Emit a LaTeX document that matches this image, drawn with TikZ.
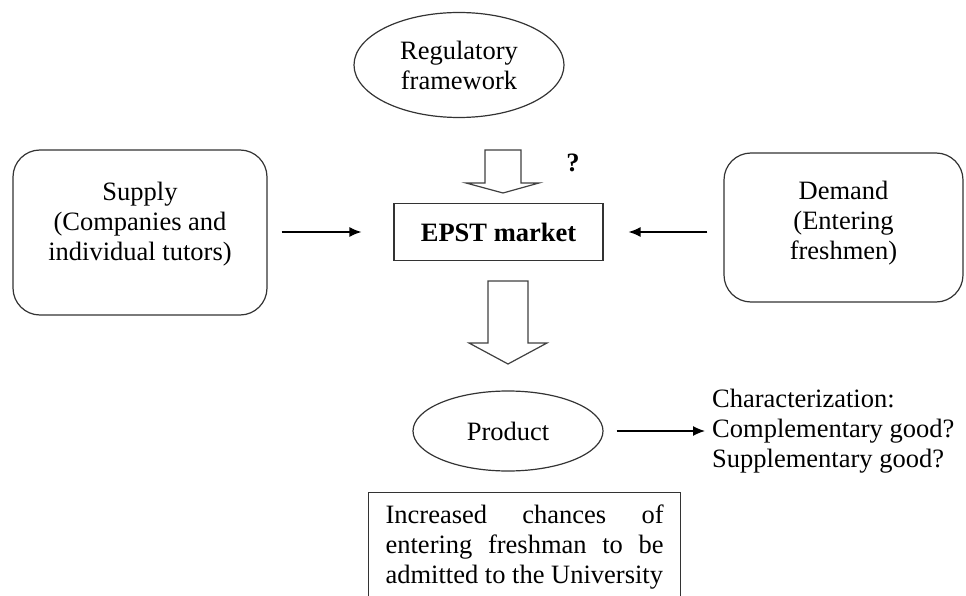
\documentclass[tikz,border=0pt]{standalone}
\usepackage{fontspec}
\setmainfont{Liberation Serif}
\usetikzlibrary{positioning, arrows.meta, shapes.geometric}
\tikzset{
every node/.style = {font = \fontsize{26.5}{30}\selectfont},
box/.style = {rectangle, draw = black!80, line width = 1.2pt, inner sep = 4pt,
   align = center},
roundbox/.style = {box, rounded corners = 27pt},
oval/.style = {ellipse, draw = black!80, line width = 1.2pt, inner sep = 2pt,
   align = center},
link/.style = {-{Latex[length = 12pt, width = 10pt]}, line width = 1.3pt},
hollow/.style = {draw = black!75, line width = 1.2pt, line join = miter, fill = white},
plain/.style = {inner sep = 0pt, align = left}
}

\begin{document}
\begin{tikzpicture}[x = 1pt, y = -1pt]
\clip (0,0) rectangle (966,596);

%% The market and its two sides
\node [box, minimum width = 209pt, minimum height = 57pt] (epst) at (498.5,232) {\textbf{EPST market}};
\node [roundbox, minimum width = 254pt, minimum height = 165pt, text depth = 22pt] (supply) at (140,232.5)
   {Supply\\(Companies and\\individual tutors)};
\node [roundbox, minimum width = 239pt, minimum height = 149pt, text depth = 14pt] (demand) at (843.5,227.5)
   {Demand\\(Entering\\freshmen)};

\path [link] (supply.east |- epst.west) edge [shorten < = 14pt, shorten > = 32pt] (epst.west);
\path [link] (demand.west |- epst.east) edge [shorten < = 16pt, shorten > = 25pt] (epst.east);

%% Regulatory framework
\node [oval, minimum width = 210pt, minimum height = 105pt] (reg) at (459,65) {Regulatory\\framework};
\node (quest) at (573,163) {\textbf{?}};

%% Hollow arrows
\coordinate (t1) at (503,193);
\draw [hollow] (t1) -- ++(-37,-10) -- ++(19,0) -- ++(0,-33) -- ++(36,0) -- ++(0,33) -- ++(18,0) -- cycle;
\coordinate (t2) at (508,364);
\draw [hollow] (t2) -- ++(-39,-21) -- ++(19,0) -- ++(0,-62) -- ++(40,0) -- ++(0,62) -- ++(19,0) -- cycle;

%% Product and its characterization
\node [oval, minimum width = 190pt, minimum height = 80pt] (product) at (508,431) {Product};
\node [plain, anchor = west] (charac) at (712,431)
   {Characterization:\\Complementary good?\\Supplementary good?};
\path [link] (product) edge [shorten < = 13pt, shorten > = 7pt] (charac);

%% Outcome
\node [box, anchor = north west, text width = 278pt, inner xsep = 17pt, inner ysep = 12pt,
   text depth = 95pt, align = justify] (outcome) at (368,492)
   {Increased chances of\linebreak entering freshman to be\linebreak admitted to the University};

\end{tikzpicture}
\end{document}
